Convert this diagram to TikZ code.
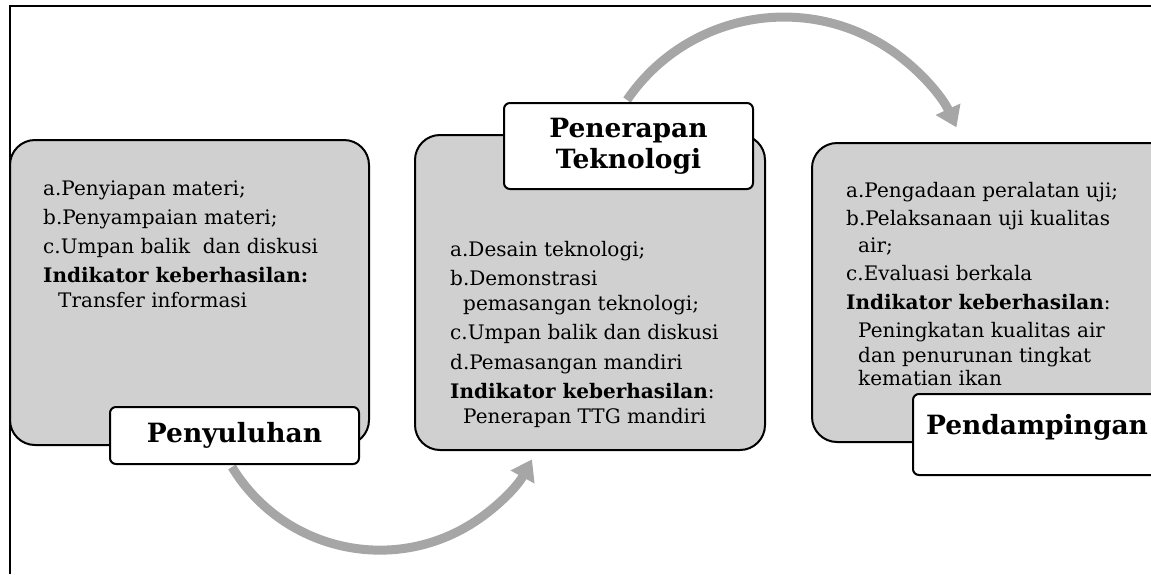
\documentclass[tikz,border=0pt]{standalone}
\usepackage{fontspec}
\setmainfont{DejaVu Serif}
\usetikzlibrary{arrows.meta}
\definecolor{boxgray}{HTML}{D0D0D0}
\definecolor{arrowgray}{HTML}{A6A6A6}
\begin{document}
\begin{tikzpicture}[x=1pt,y=-1pt,
  bigbox/.style={draw=black,line width=2pt,fill=boxgray,rounded corners=25pt},
  labelbox/.style={draw=black,line width=2pt,fill=white,rounded corners=6pt},
  itemtext/.style={anchor=base west,inner sep=0pt,font=\fontsize{20}{24}\selectfont},
  titletext/.style={inner sep=0pt,font=\fontsize{26.5}{32}\selectfont\bfseries,align=center},
  flowarrow/.style={draw=arrowgray,line width=9pt,-{Triangle[width=26pt,length=20pt]}}]
\useasboundingbox (0,0) rectangle (1151,574);
\clip (0,0) rectangle (1151,574);
% outer frame
\coordinate (ftl) at (9.5,6);
\coordinate (fbl) at (9.5,574);
\coordinate (ftr) at (1151,6);
\draw[line width=2pt] (fbl) -- (ftl) -- (ftr);
% arrows
\coordinate (a1s) at (232,467);
\draw[flowarrow] (a1s) arc[start angle=148.7, end angle=28.4, radius=173];
\coordinate (a2s) at (627,100);
\draw[flowarrow] (a2s) arc[start angle=214.3, end angle=335.2, radius=190];
% big boxes
\draw[bigbox] (10,140) rectangle (369,445);
\draw[bigbox] (415,135) rectangle (765,450);
\draw[bigbox] (812,143) rectangle (1175,442);
% box 1 text
\node[itemtext] (b1a) at (43,195) {a.Penyiapan materi;};
\node[itemtext] (b1b) at (43,224) {b.Penyampaian materi;};
\node[itemtext] (b1c) at (43,253) {c.Umpan balik\ \ dan diskusi};
\node[itemtext] (b1d) at (43,282) {\bfseries Indikator keberhasilan:};
\node[itemtext] (b1e) at (58,307) {Transfer informasi};
% box 2 text
\node[itemtext] (b2a) at (450,256) {a.Desain teknologi;};
\node[itemtext] (b2b) at (450,285) {b.Demonstrasi};
\node[itemtext] (b2c) at (463,310) {pemasangan teknologi;};
\node[itemtext] (b2d) at (450,339) {c.Umpan balik dan diskusi};
\node[itemtext] (b2e) at (450,369) {d.Pemasangan mandiri};
\node[itemtext] (b2f) at (450,398) {\textbf{Indikator keberhasilan}:};
\node[itemtext] (b2g) at (463,423) {Penerapan TTG mandiri};
% box 3 text
\node[itemtext] (b3a) at (846,197) {a.Pengadaan peralatan uji;};
\node[itemtext] (b3b) at (846,225) {b.Pelaksanaan uji kualitas};
\node[itemtext] (b3c) at (858,252) {air;};
\node[itemtext] (b3d) at (846,280) {c.Evaluasi berkala};
\node[itemtext] (b3e) at (846,309) {\textbf{Indikator keberhasilan}:};
\node[itemtext] (b3f) at (858,337) {Peningkatan kualitas air};
\node[itemtext] (b3g) at (858,362) {dan penurunan tingkat};
\node[itemtext] (b3h) at (858,385) {kematian ikan};
% label boxes
\draw[labelbox] (110,407) rectangle (359,464);
\node[titletext] (l1) at (234.5,435.5) {Penyuluhan};
\draw[labelbox] (504,103) rectangle (753,189);
\node[titletext] (l2) at (628.5,146) {Penerapan\\[-1pt]Teknologi};
\draw[labelbox] (913,394) rectangle (1170,475);
\node[titletext] (l3) at (1037,427) {Pendampingan};
\end{tikzpicture}
\end{document}
